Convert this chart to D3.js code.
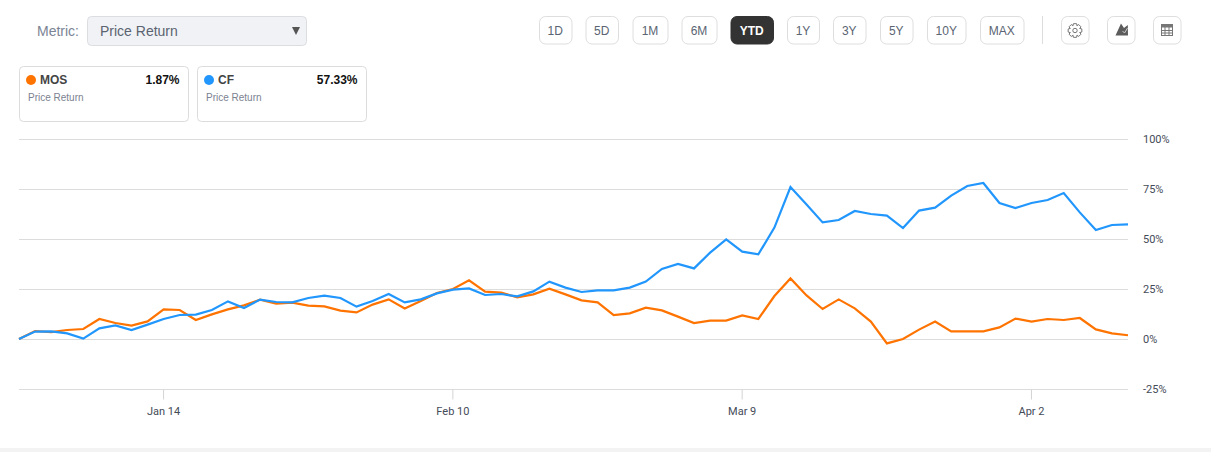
<!DOCTYPE html>
<html><head><meta charset="utf-8">
<script src="https://cdn.jsdelivr.net/npm/d3@7/dist/d3.min.js"></script>
<style>
html,body{margin:0;padding:0;background:#fff;overflow:hidden}
svg{display:block}
text{font-family:"Liberation Sans",Arial,sans-serif}
.ax text{font-family:Roboto,sans-serif}
</style></head><body><div id="chart"></div>
<script>
const seriesNames = ["MOS","CF"];
const seriesTotals = ["1.87%","57.33%"];
const metricName = "Price Return";
const mosValues = [0,4,3.4,4.5,5,10,8,6.7,8.8,14.8,14.5,9.5,12.3,14.8,16.8,19.7,17.7,18.2,16.7,16.3,14.2,13.3,17.2,19.8,15.3,19,23,25,29.3,23.7,23.2,20.8,22.3,25.2,22.3,19.3,18.3,12,12.8,15.7,14.3,11.2,8,9.2,9.2,11.8,10,21.5,30.3,21.8,15,19.8,15.3,8.7,-2.2,0,4.7,8.7,3.8,3.8,3.8,5.8,10.2,8.7,10,9.5,10.5,4.8,2.8,1.87];
const cfValues = [0,3.7,3.8,2.8,0.2,5.3,6.8,4.5,7.2,10,12,12.2,14.5,18.8,15.5,19.7,18.5,18.3,20.5,21.7,20.5,16.2,19,22.5,18.3,19.8,22.8,24.7,25.3,22,22.5,21.3,23.8,28.7,25.7,23.5,24.3,24.3,25.7,28.7,35,37.5,35.3,43.2,49.8,43.7,42.3,55.7,76,67.3,58.3,59.5,64,62.5,61.7,55.5,64.2,65.7,71.7,76.5,78,68,65.5,68,69.5,73,63.3,54.5,57,57.33];
const yTicks = [-25,0,25,50,75,100];
const xTickPositions = [9,27,45,63];
const xTickLabels = ["Jan 14","Feb 10","Mar 9","Apr 2"];
const rangeLabels = ["1D","5D","1M","6M","YTD","1Y","3Y","5Y","10Y","MAX"];
const rangeEdges = [[539.5,572],[586,618.5],[633,668],[682,717],[731,773.5],[787.5,819.5],[833.5,866],[880.5,913],[927.5,966],[980.5,1024]];
const iconEdges = [[1061.5,1089],[1107.5,1135],[1153.5,1181]];
const colors = ["#ff7300","#2196fc"];

const W=1211,H=452;
const svg=d3.select("#chart").append("svg").attr("width",W).attr("height",H);
const x=d3.scaleLinear().domain([0,mosValues.length-1]).range([19,1128]);
const y=d3.scaleLinear().domain([-25,100]).range([389,139]);

// page footer band
svg.append("rect").attr("x",0).attr("y",448).attr("width",W).attr("height",4).attr("fill","#f4f3f3");

// metric selector
svg.append("text").attr("x",37).attr("y",36).attr("font-size",14).attr("fill","#7b8494").text("Metric:");
svg.append("rect").attr("x",87.5).attr("y",16.5).attr("width",219).attr("height",29).attr("rx",4).attr("fill","#f1f2f6").attr("stroke","#dcdde0");
svg.append("text").attr("x",100).attr("y",36).attr("font-size",14).attr("fill","#5b6470").text(metricName);
svg.append("path").attr("d","M292,27h8l-4,8z").attr("fill","#555");

// range buttons
rangeLabels.forEach((l,i)=>{
  const [a,b]=rangeEdges[i],act=l==="YTD";
  svg.append("rect").attr("x",a).attr("y",16.5).attr("width",b-a).attr("height",27.5).attr("rx",6)
    .attr("fill",act?"#333":"#fff").attr("stroke",act?"#333":"#dedede");
  svg.append("text").attr("x",(a+b)/2-.5).attr("y",34.5).attr("text-anchor","middle").attr("font-size",12)
    .attr("font-weight",act?"bold":"normal").attr("fill",act?"#fff":"#5a6472").text(l);
});
svg.append("line").attr("x1",1042.5).attr("x2",1042.5).attr("y1",16).attr("y2",44).attr("stroke","#ddd");
iconEdges.forEach(([a,b])=>svg.append("rect").attr("x",a).attr("y",16.5).attr("width",b-a).attr("height",27.5).attr("rx",6).attr("fill","#fff").attr("stroke","#dedede"));
// gear icon
const gearPts=[];
d3.range(8).forEach(i=>{
  const c=i*Math.PI/4;
  [[5.2,-.42],[7,-.22],[7,.22],[5.2,.42]].forEach(([r,o])=>gearPts.push([r*Math.sin(c+o),-r*Math.cos(c+o)]));
});
const g=svg.append("g").attr("transform","translate(1075,30.5)");
g.append("path").attr("d",d3.line()(gearPts)+"Z").attr("fill","#fff").attr("stroke","#777");
g.append("circle").attr("r",2.2).attr("fill","#fff").attr("stroke","#777");
// mountain icon
svg.append("path").attr("d","M1115.5,35.5 L1121,23.5 L1124,28 L1127.8,25 L1128,35.5Z").attr("fill","#5c5c5c");
svg.append("path").attr("d","M1122.5,31 L1124.5,33 L1127.5,28").attr("fill","none").attr("stroke","#ccc");
// table icon
const tb=svg.append("g").attr("transform","translate(1161.5,24.5)");
tb.append("rect").attr("width",11).attr("height",11).attr("fill","#fff").attr("stroke","#777");
tb.append("rect").attr("width",11).attr("height",3).attr("fill","#777");
[3.5,7.5].forEach(v=>tb.append("line").attr("x1",v).attr("x2",v).attr("y1",0).attr("y2",11).attr("stroke","#777"));
[6,8.5].forEach(v=>tb.append("line").attr("y1",v).attr("y2",v).attr("x1",0).attr("x2",11).attr("stroke","#777"));

// legend cards
seriesNames.forEach((n,i)=>{
  const g=svg.append("g").attr("transform",`translate(${19.5+i*178},66.5)`);
  g.append("rect").attr("width",169).attr("height",55).attr("rx",4).attr("fill","#fff").attr("stroke","#dcdcdc");
  g.append("circle").attr("cx",11.5).attr("cy",13.5).attr("r",5).attr("fill",colors[i]);
  g.append("text").attr("x",20.5).attr("y",17.5).attr("font-size",12).attr("font-weight","bold").attr("fill","#444").text(n);
  g.append("text").attr("x",160).attr("y",17.5).attr("text-anchor","end").attr("font-size",12).attr("font-weight","bold").attr("fill","#111").text(seriesTotals[i]);
  g.append("text").attr("x",8.5).attr("y",34).attr("font-size",10).attr("fill","#7b8290").text(metricName);
});

// grid
svg.append("g").selectAll("line").data(yTicks).join("line")
  .attr("x1",19).attr("x2",1128).attr("y1",d=>y(d)+.5).attr("y2",d=>y(d)+.5)
  .attr("stroke","#dcdcdc");

// axes
const yAxis=svg.append("g").attr("class","ax").attr("transform","translate(1143,0)")
  .call(d3.axisRight(y).tickValues(yTicks).tickSize(0).tickPadding(0).tickFormat(d=>d+"%"));
yAxis.select(".domain").remove();
yAxis.selectAll("text").attr("font-size",11).attr("fill","#444b57");

const xAxis=svg.append("g").attr("class","ax").attr("transform","translate(-0.6,389.5)")
  .call(d3.axisBottom(x).tickValues(xTickPositions).tickSize(10).tickPadding(8).tickFormat((d,i)=>xTickLabels[i]));
xAxis.select(".domain").remove();
xAxis.selectAll("line").attr("stroke","#d4d4d4");
xAxis.selectAll("text").attr("font-size",11).attr("fill","#444b57");

// lines
const line=d3.line().x((d,i)=>x(i)).y(d=>y(d));
[mosValues,cfValues].forEach((v,i)=>svg.append("path").attr("d",line(v)).attr("fill","none")
  .attr("stroke",colors[i]).attr("stroke-width",2.2).attr("stroke-linejoin","miter"));
</script></body></html>
